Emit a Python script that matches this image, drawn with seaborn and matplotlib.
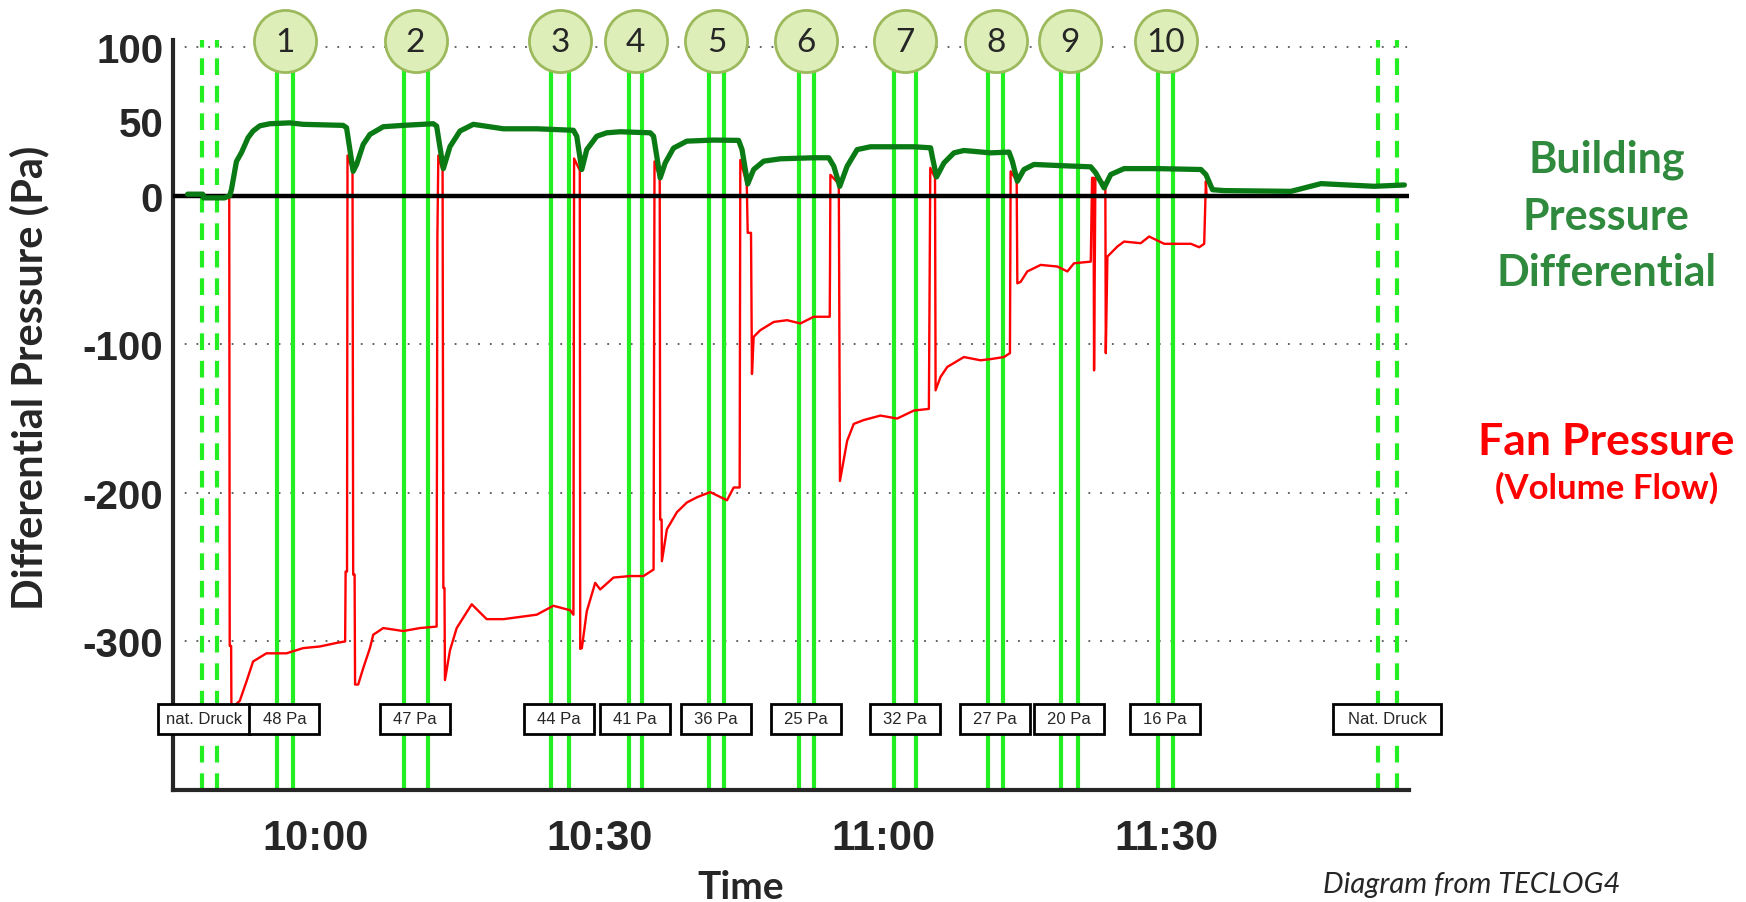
import matplotlib
matplotlib.use("Agg")
import numpy as np
import pandas as pd
import matplotlib.pyplot as plt
from matplotlib.ticker import FixedLocator, MultipleLocator, FuncFormatter
from matplotlib.patches import Rectangle
import seaborn as sns

# ---------------------------------------------------------------------------
# Datos leidos del diagrama (tiempo en minutos despues de las 10:00, presion en Pa)
# ---------------------------------------------------------------------------
building_t = [-13.5, -11.9, -11.8, -9.6, -9.05, -8.87, -8.34, -7.81, -7.11, -6.58,
              -5.87, -4.81, -2.70, -1.29, 2.94, 3.30, 4.00, 4.36, 5.06, 5.77,
              7.18, 9.29, 12.47, 12.82, 13.53, 14.23, 15.29, 16.70, 19.88, 23.40,
              27.28, 27.63, 28.16, 28.69, 29.75, 30.80, 32.22, 35.40, 35.75, 36.45,
              36.98, 37.86, 39.27, 42.09, 44.74, 45.10, 45.70, 46.33, 47.39, 49.15,
              52.68, 54.27, 54.80, 55.43, 56.21, 57.27, 58.68, 63.27, 65.03, 65.20,
              65.66, 66.44, 67.50, 68.55, 71.38, 73.32, 73.67, 74.20, 74.90, 75.96,
              78.43, 81.96, 82.49, 83.37, 84.07, 85.48, 89.01, 93.60, 94.13, 94.83,
              96.07, 103.12, 104.53, 106.30, 108.41, 111.94, 115.11]
building_pa = [1, 1, -1.5, -1.5, 0, 4, 23, 29, 39, 43.5,
               47, 48.4, 49, 48, 47.3, 45.7, 16.4, 21, 34.5, 41.2,
               46.4, 47.3, 48.4, 46.8, 18.2, 33, 43.5, 48, 45, 45,
               44, 40, 17.6, 31, 40, 42.3, 43, 42.3, 40, 12,
               22, 32, 36.7, 37.4, 37.2, 31, 7.9, 17.6, 23.2, 24.8,
               25.5, 25.5, 19.8, 6.3, 19.8, 31, 32.9, 32.9, 32.2, 26.6,
               12.6, 22, 28.8, 30.4, 28.8, 29.3, 23.2, 9.7, 17.6, 21,
               20.3, 19.4, 15.3, 5.2, 14.2, 18.2, 18.2, 17.6, 14.2, 4,
               3.4, 2.9, 5.2, 8.1, 7.4, 6.3, 7.2]

fan_t = [-13.5, -9.1, -9.05, -8.9, -8.87, -7.99, -7.28, -6.58, -5.17, -3.05,
         -1.29, 0.48, 2.24, 3.15, 3.20, 3.35, 3.40, 3.93, 4.00, 4.15,
         4.20, 4.53, 5.06, 5.77, 6.12, 7.18, 9.29, 11.06, 12.82, 12.90,
         13.00, 13.45, 13.53, 13.65, 13.70, 14.23, 14.94, 15.64, 16.53, 18.11,
         19.88, 23.40, 25.16, 26.93, 27.28, 27.35, 27.95, 28.00, 28.17, 28.69,
         29.58, 30.11, 31.52, 33.28, 34.69, 35.75, 35.85, 36.40, 36.45, 36.60,
         36.63, 37.16, 38.22, 39.27, 40.33, 41.74, 43.51, 44.22, 44.85, 44.92,
         45.60, 45.70, 46.05, 46.15, 46.33, 47.04, 48.45, 49.86, 51.27, 52.68,
         54.27, 54.37, 54.40, 54.44, 55.33, 55.45, 56.21, 56.91, 57.97, 59.73,
         61.50, 63.27, 64.85, 65.00, 65.50, 65.56, 66.08, 66.79, 68.55, 70.31,
         71.38, 72.79, 73.42, 73.49, 74.13, 74.20, 74.55, 75.25, 76.67, 78.43,
         79.49, 80.19, 81.96, 82.10, 82.25, 82.31, 82.45, 83.50, 83.55, 83.72,
         84.78, 85.48, 87.24, 88.13, 89.72, 91.13, 92.54, 93.42, 93.95, 94.13,
         94.20, 115.1]
fan_pa = [0, 0, -303, -303, -345, -340, -327, -313.5, -308, -308,
          -304.5, -303.4, -301, -300, -253, -253, 27, 17, -255, -255,
          -329, -329, -318, -304.5, -295.5, -291, -293, -291, -290, -28,
          27, 17, -264, -264, -326, -306, -291, -284, -275, -285,
          -285, -282, -276, -279, -282, 25, 17, -305, -304.5, -279.7,
          -260.6, -265, -257, -256, -256, -251.6, 23, 12, -218, -218,
          -246, -224.5, -213, -206.5, -203, -199.5, -205, -196.4, -196.4, 24,
          8, -25, -25, -120, -95, -90.5, -85, -83.8, -86, -81.5,
          -81.5, -81.5, -50, 14, 8, -192, -165, -153.6, -151, -148,
          -150, -144.6, -143.5, 18.7, 12, -131, -122, -115.3, -108.6, -110.8,
          -110, -108.6, -106, 16.4, 10, -59, -58, -51, -46.6, -47.7,
          -51, -45.5, -44.4, 12, 12, -117.6, 12, 8, -106, -41,
          -34.2, -30.9, -32, -27.5, -32.4, -32.4, -32.4, -34.7, -32.4, 9.7,
          0, 0]

assert len(building_t) == len(building_pa)
assert len(fan_t) == len(fan_pa)

# etapas de medicion (lineas verdes)
stage_no = [1, 2, 3, 4, 5, 6, 7, 8, 9, 10]
stage_start = [-4.0, 9.33, 24.92, 33.17, 41.57, 51.13, 61.14, 71.09, 78.78, 89.08]
stage_end = [-2.41, 11.87, 26.83, 34.58, 43.2, 52.68, 63.51, 72.72, 80.66, 90.67]
natural_start = [-11.94, 112.3]
natural_end = [-10.35, 114.34]

box_text = ["nat. Druck", "48 Pa", "47 Pa", "44 Pa", "41 Pa", "36 Pa",
            "25 Pa", "32 Pa", "27 Pa", "20 Pa", "16 Pa", "Nat. Druck"]
box_t = [-11.8, -3.26, 10.53, 25.77, 33.74, 42.35, 51.87, 62.31, 71.87, 79.63, 89.82, 113.3]

y_ticks = [100, 50, 0, -100, -200, -300]
grid_y = [100, -100, -200, -300]

df_building = pd.DataFrame({"t": building_t, "pa": building_pa})
df_fan = pd.DataFrame({"t": fan_t, "pa": fan_pa})

# ---------------------------------------------------------------------------
# Figura
# ---------------------------------------------------------------------------
sns.set_style("white")
plt.rcParams["font.family"] = ["Liberation Sans", "DejaVu Sans"]
CAL = ["Lato", "DejaVu Sans"]

fig = plt.figure(figsize=(17.46, 9.03), dpi=100)
ax = fig.add_axes([0.099, 0.124, 0.708, 0.831])

LIME = "#22EE22"

# lineas verticales de las etapas
for a, b in zip(stage_start, stage_end):
    ax.axvline(a, color=LIME, lw=3, zorder=1)
    ax.axvline(b, color=LIME, lw=3, zorder=1)
for a, b in zip(natural_start, natural_end):
    ax.axvline(a, color=LIME, lw=3, ls=(0, (4, 2.6)), zorder=1)
    ax.axvline(b, color=LIME, lw=3, ls=(0, (4, 2.6)), zorder=1)

for gy in grid_y:
    ax.axhline(gy, color="#555555", lw=1.3, ls=(0, (1, 5.5)), zorder=0)

sns.lineplot(data=df_fan, x="t", y="pa", sort=False, estimator=None,
             color="#FF0000", lw=1.7, ax=ax, zorder=3)
ax.axhline(0, color="black", lw=3.2, zorder=4)
sns.lineplot(data=df_building, x="t", y="pa", sort=False, estimator=None,
             color="#0A7A14", lw=3.8, ax=ax, zorder=5)

# cajas con la presion de cada etapa
for txt, t in zip(box_text, box_t):
    w = 7.4 if "Pa" in txt else (9.7 if txt.startswith("n") else 11.4)
    ax.add_patch(Rectangle((t - w / 2, -362), w, 20, facecolor="white",
                           edgecolor="black", lw=2, zorder=6, clip_on=False))
    ax.text(t, -352, txt, ha="center", va="center", fontsize=12, zorder=7,
            family=["Liberation Sans", "DejaVu Sans"], clip_on=False)

# circulos numerados
centers = [(a + b) / 2 for a, b in zip(stage_start, stage_end)]
ax.scatter(centers, [104] * len(centers), s=2000, facecolor="#DDEEB9",
           edgecolor="#9CB95C", lw=2, zorder=10, clip_on=False)
for n, c in zip(stage_no, centers):
    ax.text(c, 103.5, str(n), ha="center", va="center", fontsize=24,
            family=CAL, zorder=11, clip_on=False)

# ejes
ax.set_xlim(-15.06, 115.6)
ax.set_ylim(-400, 105)
sns.despine(ax=ax)
ax.spines["left"].set_linewidth(3)
ax.spines["bottom"].set_linewidth(3)

ax.xaxis.set_major_locator(FixedLocator([0, 30, 60, 90]))
ax.xaxis.set_minor_locator(MultipleLocator(5))
ax.xaxis.set_major_formatter(FuncFormatter(
    lambda m, p: f"{10 + int(m) // 60}:{int(m) % 60:02d}"))
ax.tick_params(axis="x", which="major", direction="inout", length=14, width=6,
               pad=13, labelsize=30)
ax.tick_params(axis="x", which="minor", direction="inout", length=6, width=1.2)

ax.yaxis.set_major_locator(FixedLocator(y_ticks))
ax.yaxis.set_minor_locator(FixedLocator([-50, -150, -250, -350]))
ax.yaxis.set_major_formatter(FuncFormatter(lambda v, p: f"{int(v)}"))
ax.tick_params(axis="y", which="major", direction="out", length=5, width=1.2,
               pad=2, labelsize=29)
ax.tick_params(axis="y", which="minor", direction="out", length=5, width=1.2)
for lab in ax.get_xticklabels() + ax.get_yticklabels():
    lab.set_fontweight("bold")

ax.set_xlabel("Time", fontsize=28, fontweight="bold", family=CAL)
ax.xaxis.set_label_coords(0.459, -0.105)
ax.set_ylabel("Differential Pressure (Pa)", fontsize=30, fontweight="bold", family=CAL)
ax.yaxis.set_label_coords(-0.100, 0.55)

# textos a la derecha
fig.text(0.920, 0.760, "Building\nPressure\nDifferential", ha="center", va="center",
         fontsize=31, fontweight="bold", color="#2F8A3E", linespacing=1.5,
         family=CAL)
fig.text(0.920, 0.511, "Fan Pressure", ha="center", va="center", fontsize=32,
         fontweight="bold", color="#FF0000", family=CAL)
fig.text(0.920, 0.459, "(Volume Flow)", ha="center", va="center", fontsize=25,
         fontweight="bold", color="#FF0000", family=CAL)
fig.text(0.928, 0.02, "Diagram from TECLOG4", ha="right", va="center", fontsize=21,
         style="italic", family=CAL)

fig.savefig("out.png", dpi=100)
